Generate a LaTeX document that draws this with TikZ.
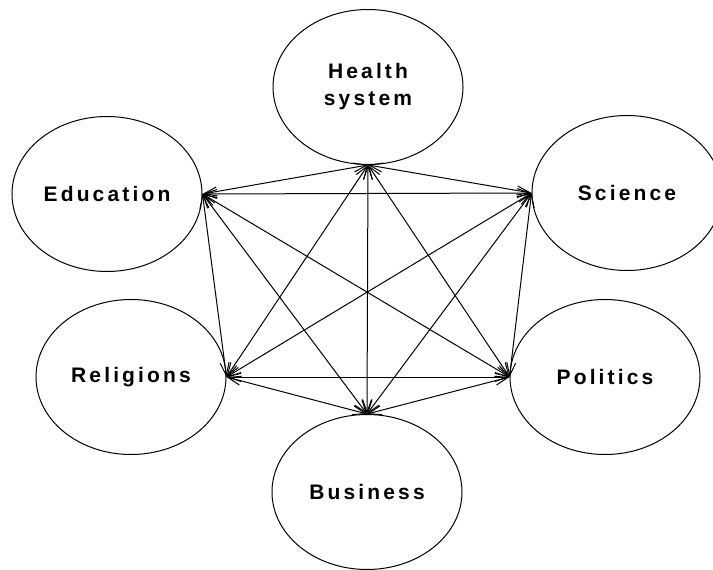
\documentclass[tikz,border=0pt]{standalone}
\usepackage{fontspec}
\setmainfont{Liberation Sans}
\newfontfamily\lblfont[LetterSpace=15]{Liberation Sans Bold}
\usetikzlibrary{arrows.meta}
\usetikzlibrary{shapes}
\begin{document}
\begin{tikzpicture}[x=1pt,y=-1pt,field/.style={
      ellipse,
      draw=black,
      line width=1pt,
      minimum width=190pt,
      minimum height=155pt,
      inner sep=0pt,
      align=center,
      font=\lblfont\fontsize{21}{27}\selectfont
    },
    link/.style={<->,line width=1pt,>={Straight Barb[length=13pt,width=9pt]}}]
\useasboundingbox (0,0) rectangle (713,570);

\node[field] (he) at (368, 87) {Health\\system};
\node[field] (ed) at (107, 194) {Education};
\node[field] (sc) at (627, 193) {Science};
\node[field] (re) at (131, 377) {Religions};
\node[field] (po) at (605, 377) {Politics};
\node[field] (bu) at (367, 492) {Business};

% every field is linked with every other one
\draw[link] (he.south) -- (ed.east);
\draw[link] (he.south) -- (sc.west);
\draw[link] (he.south) -- (re.east);
\draw[link] (he.south) -- (po.west);
\draw[link] (he.south) -- (bu.north);
\draw[link] (ed.east) -- (sc.west);
\draw[link] (ed.east) -- (re.east);
\draw[link] (ed.east) -- (po.west);
\draw[link] (ed.east) -- (bu.north);
\draw[link] (sc.west) -- (re.east);
\draw[link] (sc.west) -- (po.west);
\draw[link] (sc.west) -- (bu.north);
\draw[link] (re.east) -- (po.west);
\draw[link] (re.east) -- (bu.north);
\draw[link] (po.west) -- (bu.north);

\end{tikzpicture}
\end{document}
